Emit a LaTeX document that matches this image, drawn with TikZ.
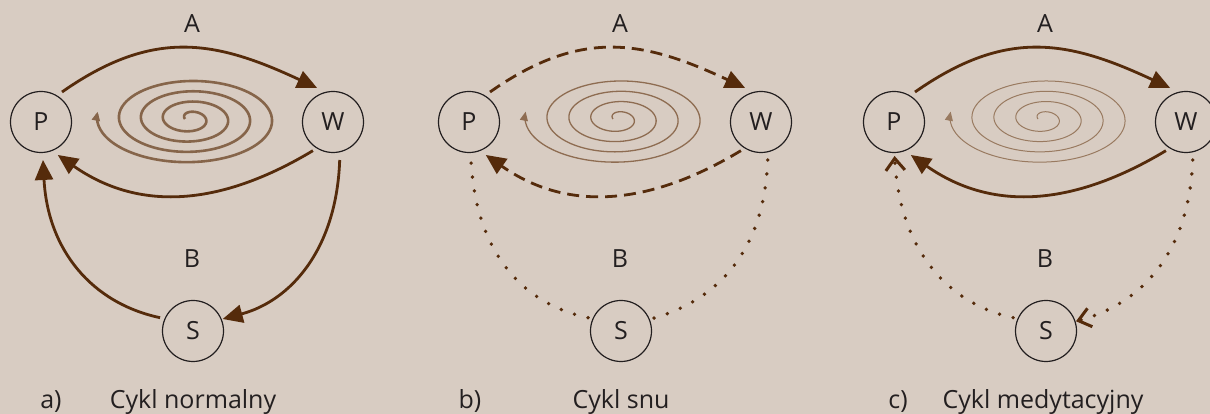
\documentclass[tikz,border=0pt]{standalone}
\usepackage{fontspec}
\setmainfont{Open Sans}
\usetikzlibrary{arrows.meta,calc}
\definecolor{bg}{HTML}{D8CCC2}
\definecolor{arr}{HTML}{552B0B}
\definecolor{spa}{HTML}{86654A}
\definecolor{spb}{HTML}{8E6C51}
\definecolor{spc}{HTML}{997A60}
\definecolor{ink}{HTML}{231F20}
\begin{document}
\begin{tikzpicture}[x=1pt,y=1pt,
  state/.style={circle,draw=ink,line width=1.2pt,minimum size=61pt,inner sep=0pt,font=\fontsize{25}{26}\selectfont,text=ink},
  lbl/.style={font=\fontsize{25}{26}\selectfont,text=ink,anchor=base},
  main/.style={draw=arr,line width=2.8pt,-{Triangle[length=20pt,width=18pt]}},
  dsh/.style={main,dash pattern=on 12pt off 7pt},
  dots/.style={draw=arr,line width=3.8pt,line cap=round,dash pattern=on 0pt off 14pt},
  barb/.style={dots,-{Straight Barb[length=12pt,width=19pt,line width=3pt,line cap=butt]}},
  spir/.style={-{Triangle[length=9pt,width=8pt]}},
]
\useasboundingbox (0,0) rectangle (1210,414);
\fill[bg] (0,0) rectangle (1210,414);

% ---------- panel a ----------
\node[state] (Pa) at (41,292) {P};
\node[state] (Wa) at (333,292) {W};
\node[state] (Sa) at (193,83) {S};
\node[lbl] (Aa) at (192,381) {A};
\node[lbl] (Ba) at (192,146) {B};
\node[lbl] (la) at (51,5) {a)};
\node[lbl] (ta) at (193,5) {Cykl normalny};
\draw[spir,draw=spa,line width=2.6pt] plot[domain=0:4.03,samples=320,smooth,variable=\t]
  ({190+(5+22*\t)*cos(180-360*\t)},{295+(4.5+10.3*\t)*sin(180-360*\t)});
\draw[main] ($(Pa)+(55:36.6)$) .. controls +(35:112) and +(155:112) .. ($(Wa)+(115:37.6)$);
\draw[main] ($(Wa)+(235:35)$) .. controls +(211:103) and +(325:103) .. ($(Pa)+(297:37)$);
\draw[main] ($(Wa)+(280:38.6)$) .. controls +(268:90) and +(15:70) .. ($(Sa)+(22:32)$);
\draw[main] ($(Sa)+(158:35.5)$) .. controls +(168:70) and +(273:90) .. ($(Pa)+(273:38)$);

% ---------- panel b ----------
\node[state] (Pb) at (469,292) {P};
\node[state] (Wb) at (761,292) {W};
\node[state] (Sb) at (621,83) {S};
\node[lbl] (Ab) at (620,381) {A};
\node[lbl] (Bb) at (620,146) {B};
\node[lbl] (lb) at (470,5) {b)};
\node[lbl] (tb) at (621,5) {Cykl snu};
\draw[spir,draw=spb,line width=1.3pt] plot[domain=0:4.03,samples=320,smooth,variable=\t]
  ({618+(5+22*\t)*cos(180-360*\t)},{295+(4.5+10.3*\t)*sin(180-360*\t)});
\draw[dsh] ($(Pb)+(55:36.6)$) .. controls +(35:112) and +(155:112) .. ($(Wb)+(115:37.6)$);
\draw[dsh] ($(Wb)+(235:35)$) .. controls +(211:103) and +(325:103) .. ($(Pb)+(297:37)$);
\draw[dots] ($(Wb)+(280:38.6)$) .. controls +(268:90) and +(15:70) .. ($(Sb)+(22:32)$);
\draw[dots] ($(Sb)+(158:35.5)$) .. controls +(168:70) and +(273:90) .. ($(Pb)+(273:38)$);

% ---------- panel c ----------
\node[state] (Pc) at (894,292) {P};
\node[state] (Wc) at (1186,292) {W};
\node[state] (Sc) at (1046,83) {S};
\node[lbl] (Ac) at (1045,381) {A};
\node[lbl] (Bc) at (1045,146) {B};
\node[lbl] (lc) at (898,5) {c)};
\node[lbl] (tc) at (1043,5) {Cykl medytacyjny};
\draw[spir,draw=spc,line width=1pt] plot[domain=0:4.03,samples=320,smooth,variable=\t]
  ({1043+(5+22*\t)*cos(180-360*\t)},{295+(4.5+10.3*\t)*sin(180-360*\t)});
\draw[main] ($(Pc)+(55:36.6)$) .. controls +(35:112) and +(155:112) .. ($(Wc)+(115:37.6)$);
\draw[main] ($(Wc)+(235:35)$) .. controls +(211:103) and +(325:103) .. ($(Pc)+(297:37)$);
\draw[barb] ($(Wc)+(280:38.6)$) .. controls +(268:90) and +(15:70) .. ($(Sc)+(18:31.5)$);
\draw[barb] ($(Sc)+(158:35.5)$) .. controls +(168:70) and +(273:90) .. ($(Pc)+(271:34)$);
\end{tikzpicture}
\end{document}
